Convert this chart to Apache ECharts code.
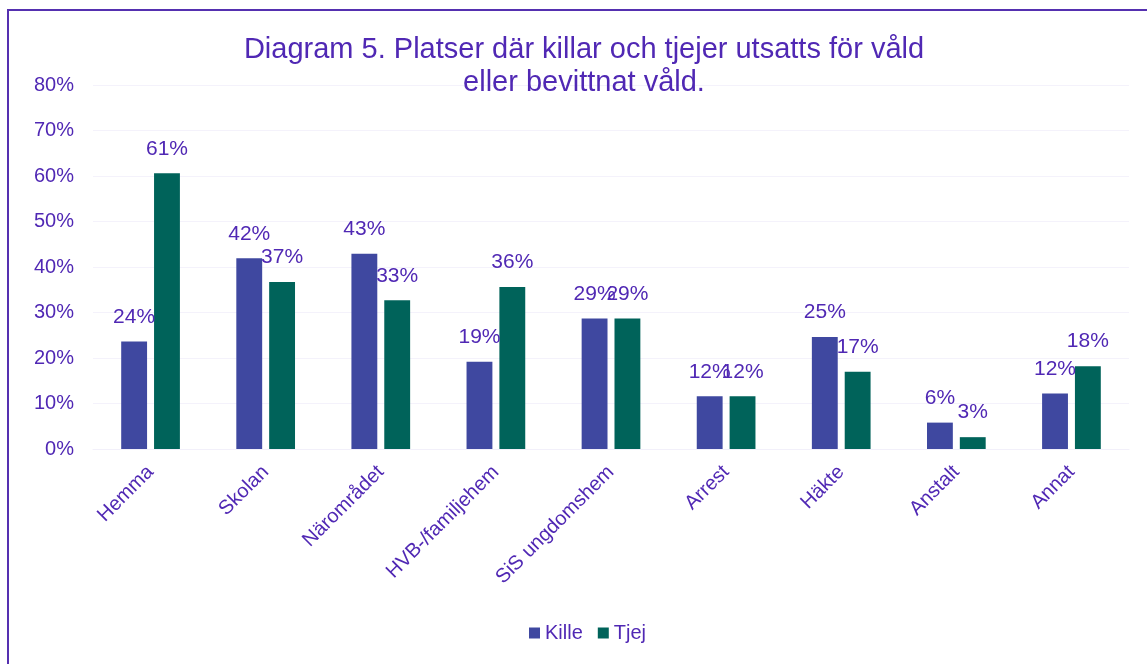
<!DOCTYPE html>
<html>
<head>
<meta charset="utf-8">
<script src="https://cdn.jsdelivr.net/npm/echarts@6/dist/echarts.min.js"></script>
<style>
  html, body { margin: 0; padding: 0; background: #fff; }
  #chart { width: 1147px; height: 664px; }
  .frame {
    position: absolute; left: 7px; top: 9px; width: 1160px; height: 680px;
    border: 2px solid #5530B0; pointer-events: none;
  }
</style>
</head>
<body>
<div id="chart"></div>
<div class="frame"></div>
<script>
const categories = ['Hemma', 'Skolan', 'Närområdet', 'HVB-/familjehem', 'SiS ungdomshem', 'Arrest', 'Häkte', 'Anstalt', 'Annat']
const kille = [23.6, 41.9, 42.9, 19.2, 28.7, 11.6, 24.6, 5.8, 12.2]
const tjej = [60.6, 36.7, 32.7, 35.6, 28.7, 11.6, 17.0, 2.6, 18.2]

const textColor = '#5028B4'
const font = "'Liberation Sans', Arial, sans-serif"

const chart = echarts.init(document.getElementById('chart'))

const labelStyle = {
  show: true,
  position: 'top',
  distance: 14,
  color: textColor,
  fontSize: 21,
  fontFamily: font,
  formatter: p => Math.round(p.value) + '%'
}

chart.setOption({
  animation: false,
  title: {
    text: 'Diagram 5. Platser där killar och tjejer utsatts för våld\neller bevittnat våld.',
    left: 579,
    top: 28,
    textAlign: 'center',
    textStyle: {
      color: textColor,
      fontSize: 29,
      fontWeight: 'normal',
      fontFamily: font,
      lineHeight: 33
    }
  },
  legend: {
    bottom: 16,
    left: 524,
    itemWidth: 11,
    itemHeight: 11,
    itemGap: 15,
    icon: 'rect',
    textStyle: { color: textColor, fontSize: 20, fontFamily: font },
    data: ['Kille', 'Tjej']
  },
  grid: {
    left: 93,
    right: 18,
    top: 85,
    bottom: 215
  },
  xAxis: {
    type: 'category',
    data: categories,
    axisTick: { show: false },
    axisLine: { lineStyle: { color: '#F2F0FA', width: 1 } },
    axisLabel: {
      rotate: 45,
      margin: 20,
      interval: 0,
      color: textColor,
      fontSize: 20,
      fontFamily: font
    }
  },
  yAxis: {
    type: 'value',
    min: 0,
    max: 80,
    interval: 10,
    axisLabel: {
      formatter: '{value}%',
      color: textColor,
      fontSize: 20,
      fontFamily: font,
      margin: 19
    },
    splitLine: { lineStyle: { color: '#F4F2FB', width: 1 } }
  },
  series: [
    {
      name: 'Kille',
      type: 'bar',
      data: kille,
      barGap: '27%',
      barCategoryGap: '49%',
      itemStyle: { color: '#3F48A0' },
      label: labelStyle
    },
    {
      name: 'Tjej',
      type: 'bar',
      data: tjej,
      itemStyle: { color: '#00635A' },
      label: labelStyle
    }
  ]
})
</script>
</body>
</html>
